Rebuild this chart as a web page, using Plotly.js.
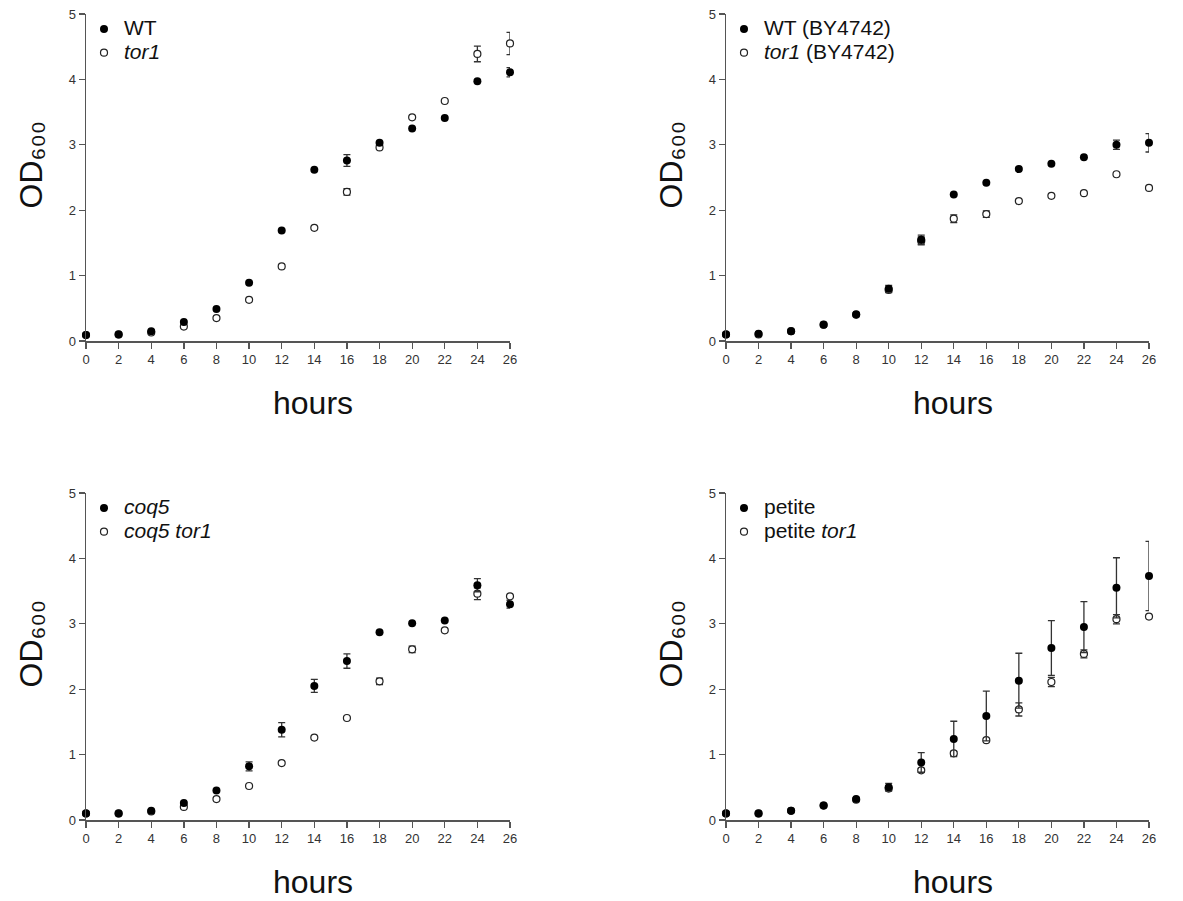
<!DOCTYPE html>
<html><head><meta charset="utf-8">
<script src="https://cdn.plot.ly/plotly-3.0.1.min.js"></script>
<style>html,body{margin:0;padding:0;background:#fff;}#c{width:1183px;height:901px;}</style>
</head><body><div id="c"></div>
<script>
const hours = [0,2,4,6,8,10,12,14,16,18,20,22,24,26];

// Panel A: WT vs tor1 (null = error bar hidden behind the marker)
const wtA      = [0.09,0.10,0.15,0.29,0.49,0.89,1.69,2.62,2.76,3.03,3.25,3.41,3.97,4.11];
const wtAErr   = [null,null,null,null,null,null,null,null,0.09,null,null,null,null,0.07];
const tor1A    = [0.09,0.10,0.13,0.22,0.35,0.63,1.14,1.73,2.28,2.96,3.42,3.67,4.39,4.55];
const tor1AErr = [null,null,null,null,null,null,null,null,0.05,null,null,null,0.12,0.17];

// Panel B: BY4742
const wtB      = [0.10,0.11,0.15,0.25,0.41,0.80,1.55,2.24,2.42,2.63,2.71,2.81,3.00,3.03];
const wtBErr   = [null,null,null,null,null,0.05,0.07,null,null,null,null,null,0.07,0.14];
const tor1B    = [0.10,0.10,0.15,0.25,0.40,0.78,1.53,1.87,1.94,2.14,2.22,2.26,2.55,2.34];
const tor1BErr = [null,null,null,null,null,0.04,0.06,0.06,0.05,null,null,null,null,null];

// Panel C: coq5
const coq5      = [0.10,0.10,0.14,0.26,0.45,0.82,1.38,2.05,2.43,2.87,3.01,3.05,3.59,3.30];
const coq5Err   = [null,null,null,null,null,0.07,0.11,0.10,0.11,null,null,null,0.10,0.06];
const coq5tor   = [0.10,0.10,0.13,0.20,0.32,0.52,0.87,1.26,1.56,2.12,2.61,2.90,3.46,3.42];
const coq5torErr= [null,null,null,null,null,null,null,null,null,0.05,0.05,null,0.09,null];

// Panel D: petite
const petite      = [0.10,0.10,0.14,0.22,0.32,0.50,0.88,1.24,1.59,2.13,2.63,2.95,3.55,3.73];
const petiteErr   = [null,null,null,null,null,0.06,0.15,0.27,0.38,0.42,0.42,0.39,0.46,0.53];
const petitetor   = [0.10,0.10,0.14,0.22,0.31,0.48,0.76,1.02,1.22,1.69,2.11,2.54,3.07,3.11];
const petitetorErr= [null,null,null,null,null,null,0.03,0.03,null,0.10,0.07,0.06,0.07,null];

const legendNames = [
  ["WT", "<i>tor1</i>"],
  ["WT (BY4742)", "<i>tor1</i> (BY4742)"],
  ["<i>coq5</i>", "<i>coq5 tor1</i>"],
  ["petite", "petite <i>tor1</i>"]
];
const yTitle = "OD\u2086\u2080\u2080";
const xTitle = "hours";

const filledSeries = [[wtA,wtAErr],[wtB,wtBErr],[coq5,coq5Err],[petite,petiteErr]];
const openSeries   = [[tor1A,tor1AErr],[tor1B,tor1BErr],[coq5tor,coq5torErr],[petitetor,petitetorErr]];

const W = 1183, H = 901;
const px = v => v / W, py = v => 1 - v / H;
const errArr = a => a.map(v => (v === null ? NaN : v));
const FONT = 'Liberation Sans, Arial, sans-serif';
// panel pixel boxes: [left, right, top, bottom]
const boxes = [[86,510,14,341],[726,1149,14,341],[86,510,493,820],[726,1149,493,820]];

const traces = [];
const layout = {
  width: W, height: H,
  margin: {l:0, r:0, t:0, b:0},
  paper_bgcolor: '#fff', plot_bgcolor: '#fff',
  font: {family: FONT, color: '#000'},
  showlegend: true,
  annotations: []
};

boxes.forEach((b, i) => {
  const n = i + 1;
  const xa = n === 1 ? 'x' : 'x' + n, ya = n === 1 ? 'y' : 'y' + n;
  const xk = n === 1 ? 'xaxis' : 'xaxis' + n, yk = n === 1 ? 'yaxis' : 'yaxis' + n;
  const lg = n === 1 ? 'legend' : 'legend' + n;
  const axBase = {
    showgrid: false, zeroline: false, showline: true, linecolor: '#555', linewidth: 1.5,
    ticks: 'outside', ticklen: 6, tickwidth: 1.3, tickcolor: '#555',
    tickfont: {size: 13, color: '#333', family: FONT},
    fixedrange: true
  };
  layout[xk] = Object.assign({}, axBase, {
    domain: [px(b[0]), px(b[1])], anchor: ya, range: [0, 26], tickvals: hours
  });
  layout[yk] = Object.assign({}, axBase, {
    domain: [py(b[3]), py(b[2])], anchor: xa, range: [0, 5], tickvals: [0,1,2,3,4,5]
  });
  layout[lg] = {
    x: px(b[0] - 2), y: py(b[2] - 2), xanchor: 'left', yanchor: 'top',
    bgcolor: 'rgba(0,0,0,0)', borderwidth: 0, itemwidth: 30,
    font: {size: 16, color: '#111', family: FONT},
    traceorder: 'normal', tracegroupgap: 0
  };
  const o = openSeries[i], f = filledSeries[i];
  const big = s => '<span style="font-size:21px">' + s + '</span>';
  traces.push({
    type: 'scatter', mode: 'markers', x: hours, y: o[0], xaxis: xa, yaxis: ya,
    name: big(legendNames[i][1]), legend: lg, legendrank: 2, cliponaxis: false,
    marker: {symbol: 'circle', size: 7, color: '#fff', line: {width: 1.2, color: '#222'}},
    error_y: {type: 'data', array: errArr(o[1]), visible: true, color: '#333', thickness: 1.3, width: 3.5}
  });
  traces.push({
    type: 'scatter', mode: 'markers', x: hours, y: f[0], xaxis: xa, yaxis: ya,
    name: big(legendNames[i][0]), legend: lg, legendrank: 1, cliponaxis: false,
    marker: {symbol: 'circle', size: 8, color: '#000'},
    error_y: {type: 'data', array: errArr(f[1]), visible: true, color: '#333', thickness: 1.3, width: 3.5}
  });
  // axis titles
  layout.annotations.push({
    xref: 'paper', yref: 'paper', x: px(b[0] - 56), y: py((b[2] + b[3]) / 2 - 12),
    xanchor: 'center', yanchor: 'middle', textangle: -90, showarrow: false,
    text: yTitle, font: {size: 32, color: '#111', family: FONT}
  });
  layout.annotations.push({
    xref: 'paper', yref: 'paper', x: px(b[0] + 227), y: py(b[3] + 62),
    xanchor: 'center', yanchor: 'middle', showarrow: false,
    text: xTitle, font: {size: 32, color: '#111', family: FONT}
  });
});

Plotly.newPlot('c', traces, layout, {staticPlot: true, displayModeBar: false});
</script></body></html>
